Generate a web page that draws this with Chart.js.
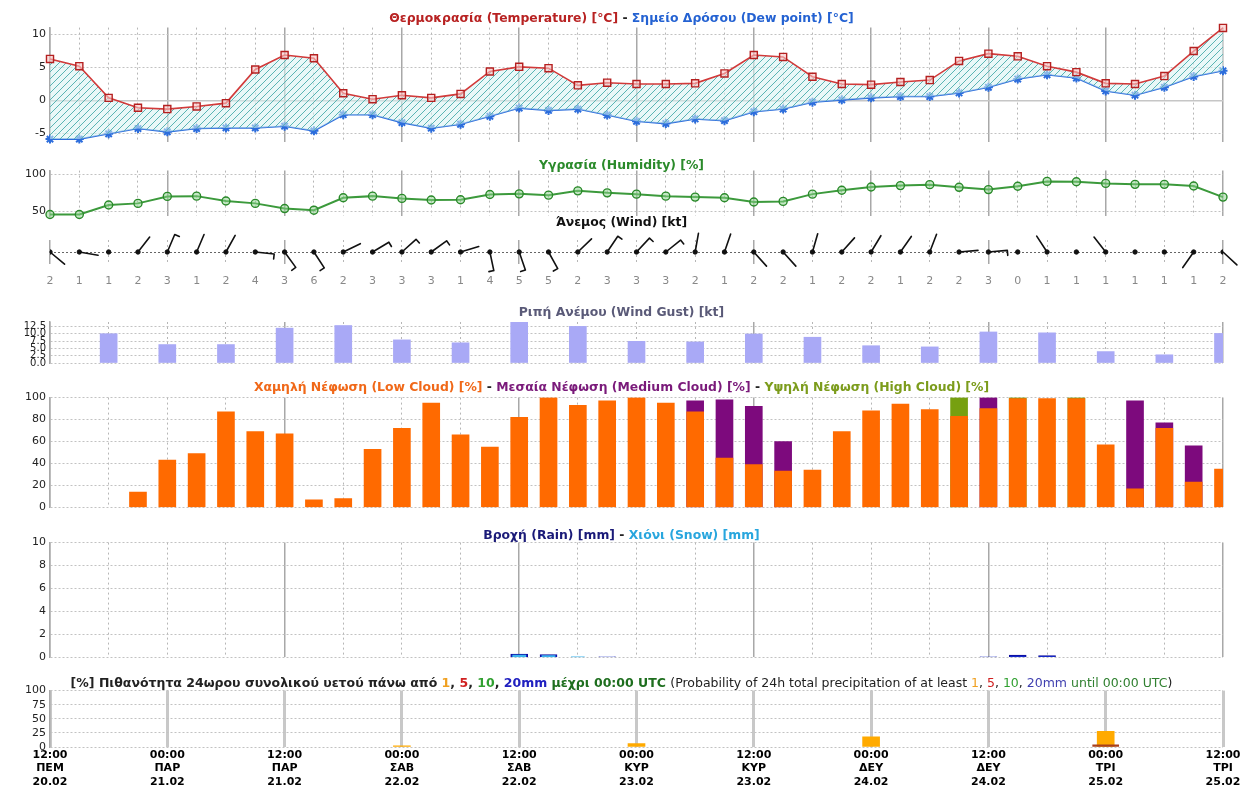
<!DOCTYPE html>
<html>
<head>
<meta charset="utf-8">
<script src="https://cdn.jsdelivr.net/npm/chart.js@4.4.1/dist/chart.umd.min.js"></script>
<style>
body { margin: 0; background: #fff; font-family: 'DejaVu Sans', sans-serif; }
#wrap { position: relative; width: 1243px; height: 787px; overflow: hidden; background: #fff; }
canvas { position: absolute; left: 0; }
.ttl { position: absolute; left: 0; width: 1243px; text-align: center; font-weight: bold; font-size: 12.4px; line-height: 14px; white-space: nowrap; z-index: 5; color: #222; }
.ttl .n { font-weight: normal; }
</style>
</head>
<body>
<div id="wrap">
  <div class="ttl" style="top:11px"><span style="color:#b82222">Θερμοκρασία (Temperature) [°C]</span> - <span style="color:#2462d2">Σημείο Δρόσου (Dew point) [°C]</span></div>
  <div class="ttl" style="top:158px;color:#2a8a2a">Υγρασία (Humidity) [%]</div>
  <div class="ttl" style="top:215px;color:#111">Άνεμος (Wind) [kt]</div>
  <div class="ttl" style="top:305px;color:#5a5a78">Ριπή Ανέμου (Wind Gust) [kt]</div>
  <div class="ttl" style="top:380px"><span style="color:#f06818">Χαμηλή Νέφωση (Low Cloud) [%]</span> - <span style="color:#7a1a7a">Μεσαία Νέφωση (Medium Cloud) [%]</span> - <span style="color:#7c9c1c">Υψηλή Νέφωση (High Cloud) [%]</span></div>
  <div class="ttl" style="top:528px"><span style="color:#1a1a78">Βροχή (Rain) [mm]</span> - <span style="color:#28a6de">Χιόνι (Snow) [mm]</span></div>
  <div class="ttl" style="top:676px;font-size:12.5px">[%] Πιθανότητα 24ωρου συνολικού υετού πάνω από <span style="color:#f0a020">1</span>, <span style="color:#d02020">5</span>, <span style="color:#30a030">10</span>, <span style="color:#2020c0">20mm</span> <span style="color:#1e6e1e">μέχρι 00:00 UTC</span> <span class="n">(Probability of 24h total precipitation of at least <span style="color:#f0a020">1</span>, <span style="color:#d02020">5</span>, <span style="color:#30a030">10</span>, <span style="color:#4040b0">20mm</span> <span style="color:#308030">until 00:00 UTC</span>)</span></div>

  <canvas id="cTemp" width="1243" height="136" style="top:17px"></canvas>
  <canvas id="cHum" width="1243" height="67" style="top:160px"></canvas>
  <canvas id="cWind" width="1243" height="60" style="top:232px"></canvas>
  <canvas id="cGust" width="1243" height="61" style="top:312px"></canvas>
  <canvas id="cCloud" width="1243" height="131" style="top:387px"></canvas>
  <canvas id="cRain" width="1243" height="136" style="top:532px"></canvas>
  <canvas id="cProb" width="1243" height="107" style="top:680px"></canvas>
</div>
<script>
// every 3 hours from 12:00 20.02 to 12:00 25.02
const temperature = [6.3, 5.2, 0.4, -1.1, -1.3, -0.9, -0.4, 4.7, 6.9, 6.4, 1.1, 0.2, 0.8, 0.4, 1.0, 4.4, 5.1, 4.9, 2.3, 2.7, 2.5,
    2.5, 2.6, 4.1, 6.9, 6.6, 3.6, 2.5, 2.4, 2.8, 3.1, 6.0, 7.1, 6.7, 5.2, 4.3, 2.6, 2.5, 3.7, 7.5, 11.0];
const dewPoint = [-5.85, -5.85, -5.05, -4.25, -4.75, -4.25, -4.15, -4.15, -3.9, -4.6, -2.15, -2.15, -3.35, -4.2, -3.6, -2.4, -1.15,
    -1.5, -1.3, -2.2, -3.15, -3.5, -2.8, -3.05, -1.7, -1.3, -0.25, 0.1, 0.4, 0.6, 0.6, 1.15, 2.0, 3.25, 3.9, 3.4, 1.45, 0.8, 2.0, 3.65, 4.5];
const humidity = [46, 46, 58.8, 61, 70.4, 70.8, 64.2, 61, 54, 51.8, 68.6, 70.8, 67.7, 65.5, 65.9, 73, 73.9, 72.1, 77.9, 75.2, 73.5,
    70.8, 69.5, 68.6, 62.8, 63.7, 73.5, 78.8, 83.2, 85, 86.3, 82.7, 79.6, 84.1, 90.7, 90.3, 88, 86.7, 86.7, 84.5, 69.5];
const windSpeed = [2, 1, 1, 2, 3, 1, 2, 4, 3, 6, 2, 3, 3, 3, 1, 4, 5, 5, 2, 3, 3, 3, 2, 1, 2, 2, 1, 2, 2, 1, 2, 2, 3, 0, 1, 1, 1, 1, 1, 1, 2];
const windDir = [130, 100, null, 38, 23, 23, 29, 96, 144, 147, 64, 59, 48, 54, 73, 168, 161, 151, 46, 34, 43,
    51, 10, 19, 138, 138, 16, 42, 31, 35, 21, 85, 85, null, 327, null, 322, null, null, 215, 133];
const lowCloud = [0, 0, 0, 14, 43, 49, 87, 69, 67, 7, 8, 53, 72, 95, 66, 55, 82, 100, 93, 97, 100,
    95, 87, 45, 39, 33, 34, 69, 88, 94, 89, 83, 90, 99, 99, 99, 57, 17, 72, 23, 35];
const mediumCloud = [0, 0, 0, 0, 0, 0, 0, 0, 0, 0, 0, 0, 0, 0, 0, 0, 0, 0, 0, 0, 0,
    0, 97, 98, 92, 60, 0, 0, 0, 0, 0, 0, 100, 0, 0, 0, 0, 97, 77, 56, 0];
const highCloud = [0, 0, 0, 0, 0, 0, 0, 0, 0, 0, 0, 0, 0, 0, 0, 0, 0, 0, 0, 0, 0,
    0, 0, 0, 0, 0, 0, 0, 0, 0, 0, 100, 0, 100, 0, 100, 0, 0, 0, 0, 0];
const rain = [0, 0, 0, 0, 0, 0, 0, 0, 0, 0, 0, 0, 0, 0, 0, 0, 0.3, 0.25, 0, 0.05, 0,
    0, 0, 0, 0, 0, 0, 0, 0, 0, 0, 0, 0.06, 0.2, 0.15, 0, 0, 0, 0, 0, 0];
const snow = [0, 0, 0, 0, 0, 0, 0, 0, 0, 0, 0, 0, 0, 0, 0, 0, 0.2, 0.15, 0.06, 0, 0,
    0, 0, 0, 0, 0, 0, 0, 0, 0, 0, 0, 0, 0, 0, 0, 0, 0, 0, 0, 0];

// every 6 hours from 18:00 20.02
const windGust = [10.0, 6.3, 6.3, 11.9, 12.8, 7.9, 6.9, 14, 12.5, 7.4, 7.2, 9.9, 8.8, 5.9, 5.5, 10.6, 10.3, 3.9, 2.8, 10.1];

// 24h probability, at 00:00 of 22.02 .. 25.02
const probHours = [36, 60, 84, 108];
const prob1mm = [2, 6, 18, 28];
const prob5mm = [0, 0, 0, 4];
const prob10mm = [0, 0, 0, 0];
const prob20mm = [0, 0, 0, 0];

// axis labels, every 12 hours
const timeLabels = ['12:00', '00:00', '12:00', '00:00', '12:00', '00:00', '12:00', '00:00', '12:00', '00:00', '12:00'];
const dayLabels = ['ΠΕΜ', 'ΠΑΡ', 'ΠΑΡ', 'ΣΑΒ', 'ΣΑΒ', 'ΚΥΡ', 'ΚΥΡ', 'ΔΕΥ', 'ΔΕΥ', 'ΤΡΙ', 'ΤΡΙ'];
const dateLabels = ['20.02', '21.02', '21.02', '22.02', '22.02', '23.02', '23.02', '24.02', '24.02', '25.02', '25.02'];

const tempTicks = [-5, 0, 5, 10];
const humTicks = [50, 100];
const gustTicks = [0, 2.5, 5, 7.5, 10, 12.5];
const cloudTicks = [0, 20, 40, 60, 80, 100];
const rainTicks = [0, 2, 4, 6, 8, 10];
const probTicks = [0, 25, 50, 75, 100];

Chart.defaults.font.family = "'DejaVu Sans', sans-serif";
Chart.defaults.font.size = 11;
Chart.defaults.color = '#222';
Chart.defaults.animation = false;
Chart.defaults.responsive = false;
Chart.defaults.plugins.legend.display = false;
Chart.defaults.plugins.tooltip.enabled = false;

const SOLID = '#a8a8a8';
const DOT = '#b6b6b6';
const PAD = { left: 0, right: 20, top: 10, bottom: 10 };

const every3h = series => series.map((v, i) => ({ x: i * 3, y: v }));
const bars3h = series => series.map((v, i) => ({ x: i * 3, y: v > 0 ? v : null }));

function xAxis(step, solidEvery, extra) {
    const isSolid = c => c.tick && c.tick.value % solidEvery === 0;
    return Object.assign({
        type: 'linear', min: 0, max: 120, offset: false,
        afterBuildTicks: s => {
            const t = [];
            for (let h = 0; h <= 120; h += step) t.push({ value: h });
            s.ticks = t;
        },
        ticks: { display: false },
        grid: {
            offset: false, drawTicks: false,
            color: c => isSolid(c) ? SOLID : DOT,
            lineWidth: c => isSolid(c) ? 1.5 : 1
        },
        border: { display: false, dash: c => isSolid(c) ? [] : [2, 3] }
    }, extra || {});
}

function yAxis(min, max, ticks, opts) {
    opts = opts || {};
    return {
        min: min, max: max,
        afterBuildTicks: s => { s.ticks = ticks.map(v => ({ value: v })); },
        afterFit: s => { s.width = 50; },
        ticks: {
            autoSkip: false, padding: 4, display: opts.hideLabels ? false : true,
            font: { size: opts.fontSize || 11 },
            callback: opts.fmt || (v => v)
        },
        grid: {
            drawTicks: false,
            color: c => (opts.zeroSolid && c.tick && c.tick.value === 0) ? '#c6c6c6' : (opts.gridColor || '#c2c2c2'),
            lineWidth: c => (opts.zeroSolid && c.tick && c.tick.value === 0) ? 1.5 : 1
        },
        border: {
            display: opts.noBorder ? false : true, color: SOLID, width: 1.5,
            dash: c => (!c.tick || (opts.zeroSolid && c.tick.value === 0)) ? [] : [2, 2]
        }
    };
}

// hatch between temperature and dew point
const tempCanvas = document.getElementById('cTemp');
const tile = document.createElement('canvas');
tile.width = 7; tile.height = 7;
const tg = tile.getContext('2d');
tg.fillStyle = 'rgba(215,242,242,0.55)';
tg.fillRect(0, 0, 7, 7);
tg.strokeStyle = '#5ab4b4';
tg.lineWidth = 1;
tg.beginPath();
tg.moveTo(0, 7); tg.lineTo(7, 0);
tg.moveTo(-1, 1); tg.lineTo(1, -1);
tg.moveTo(6, 8); tg.lineTo(8, 6);
tg.stroke();
const hatch = tempCanvas.getContext('2d').createPattern(tile, 'repeat');

// Temperature / dew point
new Chart(tempCanvas, {
    type: 'line',
    data: {
        datasets: [{
            data: every3h(temperature),
            borderColor: '#d23a3a', borderWidth: 1.6,
            fill: '+1', backgroundColor: hatch,
            pointStyle: 'rect', pointRadius: 5,
            pointBorderColor: '#b52020', pointBackgroundColor: 'rgba(250,195,195,0.6)', pointBorderWidth: 1.4,
            clip: 8
        }, {
            data: every3h(dewPoint),
            borderColor: '#2c6ddc', borderWidth: 1.6, fill: false,
            pointStyle: 'star', pointRadius: 4.5,
            pointBorderColor: '#2c6ddc', pointBorderWidth: 2,
            clip: 8
        }]
    },
    options: {
        layout: { padding: PAD },
        scales: { x: xAxis(3, 12), y: yAxis(-6.35, 11.05, tempTicks, { zeroSolid: true }) }
    }
});

// Humidity
new Chart(document.getElementById('cHum'), {
    type: 'line',
    data: {
        datasets: [{
            data: every3h(humidity),
            borderColor: '#3c9a3c', borderWidth: 2,
            pointRadius: 4, pointBorderColor: '#2a8a2a', pointBorderWidth: 1.4,
            pointBackgroundColor: 'rgba(140,210,140,0.5)',
            clip: 8
        }]
    },
    options: {
        layout: { padding: PAD },
        scales: { x: xAxis(3, 12), y: yAxis(43.4, 105.3, humTicks) }
    }
});

// Wind barbs
const barbPlugin = {
    id: 'barbs',
    afterDatasetsDraw(chart) {
        const { ctx, scales: { x, y } } = chart;
        const y0 = y.getPixelForValue(0);
        ctx.save();
        ctx.strokeStyle = '#111';
        ctx.lineWidth = 1.6;
        ctx.lineCap = 'round';
        windDir.forEach((d, i) => {
            if (d === null) return;
            const px = x.getPixelForValue(i * 3);
            const r = d * Math.PI / 180;
            const ex = px + Math.sin(r) * 19;
            const ey = y0 - Math.cos(r) * 19;
            ctx.beginPath();
            ctx.moveTo(px, y0);
            ctx.lineTo(ex, ey);
            if (windSpeed[i] >= 3) {
                const rb = r + Math.PI / 2;
                ctx.moveTo(ex, ey);
                ctx.lineTo(ex + Math.sin(rb) * 5, ey - Math.cos(rb) * 5);
            }
            ctx.stroke();
        });
        ctx.restore();
    }
};

const windX = xAxis(3, 24, {});
windX.grid.color = c => !c.tick ? DOT : (c.tick.value % 6 !== 0 ? 'rgba(0,0,0,0)' : (c.tick.value % 24 === 0 ? SOLID : DOT));
windX.ticks = { display: true, padding: 11, color: '#888', font: { size: 11 }, autoSkip: false, maxRotation: 0,
    callback: v => windSpeed[v / 3] };
windX.afterFit = s => { s.height = 24; };
const windY = yAxis(-1, 1, [0], { hideLabels: true, noBorder: true, gridColor: '#666' });

new Chart(document.getElementById('cWind'), {
    type: 'scatter',
    data: { datasets: [{ data: windSpeed.map((_, i) => ({ x: i * 3, y: 0 })), pointRadius: 2.2, pointBackgroundColor: '#111', pointBorderColor: '#111' }] },
    options: {
        layout: { padding: { left: 0, right: 20, top: 8, bottom: 4 } },
        scales: { x: windX, y: windY }
    },
    plugins: [barbPlugin]
});

// Wind gust
new Chart(document.getElementById('cGust'), {
    type: 'bar',
    data: { datasets: [{ data: windGust.map((v, i) => ({ x: (i + 1) * 6, y: v })), backgroundColor: '#a9a9f6', barThickness: 17 }] },
    options: {
        layout: { padding: PAD },
        scales: { x: xAxis(6, 24), y: yAxis(0, 14, gustTicks, { fontSize: 10, fmt: v => v.toFixed(1) }) }
    }
});

// Clouds (overlapping bars, low in front)
new Chart(document.getElementById('cCloud'), {
    type: 'bar',
    data: {
        datasets: [
            { data: bars3h(lowCloud), backgroundColor: '#ff6a00', barThickness: 17, grouped: false, order: 0 },
            { data: bars3h(mediumCloud), backgroundColor: '#7d0a7d', barThickness: 17, grouped: false, order: 1 },
            { data: bars3h(highCloud), backgroundColor: '#76a010', barThickness: 17, grouped: false, order: 2 }
        ]
    },
    options: {
        layout: { padding: PAD },
        scales: { x: xAxis(6, 24), y: yAxis(0, 100, cloudTicks) }
    }
});

// Rain / snow
new Chart(document.getElementById('cRain'), {
    type: 'bar',
    data: {
        datasets: [
            { data: bars3h(snow), backgroundColor: '#3cb4ee', barThickness: 13, grouped: false, order: 0 },
            { data: bars3h(rain), backgroundColor: '#1428c8', borderColor: '#0a0a9a', borderWidth: 1, barThickness: 17, grouped: false, order: 1 }
        ]
    },
    options: {
        layout: { padding: PAD },
        scales: { x: xAxis(6, 24), y: yAxis(0, 10, rainTicks) }
    }
});

// Precipitation probability + time axis
const probX = xAxis(12, 12, {});
probX.grid.color = '#c8c8c8';
probX.grid.lineWidth = 3;
probX.border = { display: false };
probX.ticks = { display: true, padding: 1, color: '#000', autoSkip: false, maxRotation: 0,
    font: { size: 11, weight: 'bold', lineHeight: 1.25 },
    callback: v => [timeLabels[v / 12], dayLabels[v / 12], dateLabels[v / 12]] };
probX.afterFit = s => { s.height = 40; };

const probBars = (vals, color, w, order) => ({
    data: probHours.map((h, i) => ({ x: h, y: vals[i] > 0 ? vals[i] : null })),
    backgroundColor: color, barThickness: w, grouped: false, order: order
});

new Chart(document.getElementById('cProb'), {
    type: 'bar',
    data: {
        datasets: [
            probBars(prob20mm, '#2020c0', 17, 0),
            probBars(prob10mm, '#30a030', 17, 1),
            probBars(prob5mm, '#a8401c', 26, 2),
            probBars(prob1mm, '#ffaa00', 17, 3)
        ]
    },
    options: {
        layout: { padding: { left: 0, right: 20, top: 10, bottom: 0 } },
        scales: { x: probX, y: yAxis(0, 100, probTicks) }
    }
});
</script>
</body>
</html>
